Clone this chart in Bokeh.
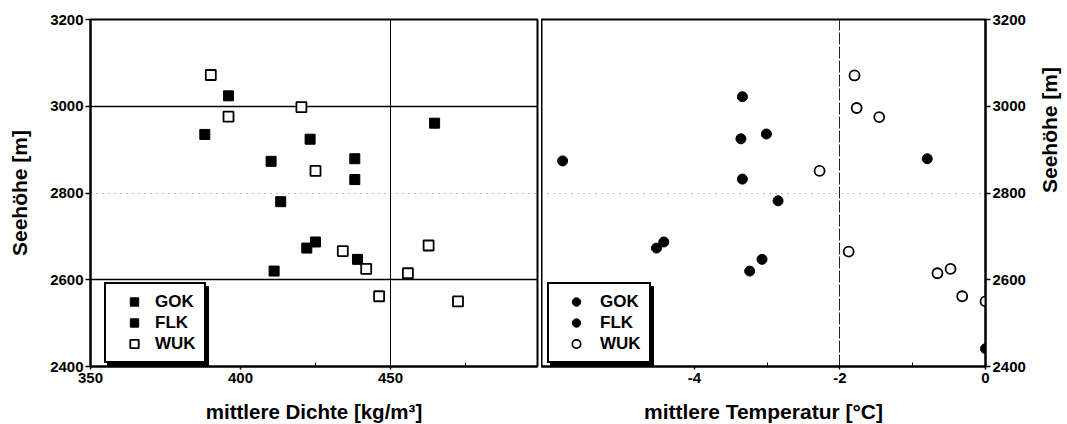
import math
from bokeh.plotting import figure
from bokeh.layouts import row
from bokeh.models import (Legend, LegendItem, FixedTicker, Grid, Range1d,
                          BoxAnnotation)
from bokeh.embed import file_html
from bokeh.resources import INLINE

# ---------------- data ----------------
groups = ["GOK", "FLK", "WUK"]

# left panel: mittlere Dichte [kg/m3] vs Seehöhe [m]
gok_dichte = [388.1, 423.2, 410.2, 438.1, 413.4]
gok_hoehe_d = [2935, 2924, 2873, 2831, 2780]
flk_dichte = [396.0, 464.7, 438.1, 422.1, 425.0, 439.0, 411.2]
flk_hoehe_d = [3024, 2961, 2879, 2673, 2687, 2647, 2620]
wuk_dichte = [390.1, 420.3, 396.0, 425.0, 434.1, 441.9, 462.7, 455.8, 446.2, 472.5]
wuk_hoehe_d = [3072, 2998, 2976, 2851, 2666, 2625, 2679, 2615, 2562, 2550]

# right panel: mittlere Temperatur [°C] vs Seehöhe [m]
gok_temp = [-5.81, -3.36, -3.01, -3.34, -2.85]
gok_hoehe_t = [2874, 2925, 2936, 2832, 2782]
flk_temp = [-3.34, -0.80, -4.52, -4.42, -3.24, -3.07, 0.0]
flk_hoehe_t = [3022, 2879, 2673, 2687, 2620, 2647, 2441]
wuk_temp = [-1.80, -1.77, -1.46, -2.28, -1.88, -0.48, -0.66, -0.32, 0.0]
wuk_hoehe_t = [3071, 2996, 2975, 2851, 2665, 2625, 2615, 2562, 2550]

x_ticks_d = [350, 400, 450]
x_minor_d = [375, 425, 475]
x_ticks_t = [-4, -2, 0]
x_minor_t = [-5, -3, -1]
y_ticks = [2400, 2600, 2800, 3000, 3200]

FONT = "Liberation Sans"


def style_axes(p):
    p.outline_line_color = "black"
    p.outline_line_width = 2
    p.xgrid.visible = False
    p.ygrid.visible = False
    for ax in p.axis:
        ax.axis_line_width = 2
        ax.axis_line_color = "black"
        ax.major_tick_line_width = 1.5
        ax.major_tick_line_color = "black"
        ax.minor_tick_line_color = "black"
        ax.minor_tick_line_width = 1
        ax.major_label_text_font = FONT
        ax.major_label_text_font_style = "bold"
        ax.major_label_text_font_size = "15px"
        ax.major_label_text_color = "black"
        ax.axis_label_text_font = FONT
        ax.axis_label_text_font_style = "bold"
        ax.axis_label_text_font_size = "21px"
        ax.axis_label_text_color = "black"
    for ax in p.xaxis:
        ax.major_tick_in = 0
        ax.major_tick_out = 3
        ax.minor_tick_in = 4
        ax.minor_tick_out = 0
        ax.major_label_standoff = 3
        ax.axis_label_standoff = 14
    for ax in p.yaxis:
        ax.major_tick_in = 0
        ax.major_tick_out = 5
        ax.minor_tick_in = 0
        ax.minor_tick_out = 0
        ax.major_label_standoff = 2


def make_legend(p, items, loc, gw, standoff):
    pad, lw, lh = 7, 42, 21
    w = 2 * pad + gw + standoff + lw + 3
    h = 2 * pad + len(items) * lh + 3
    off = 3
    shadow = BoxAnnotation(left=loc[0] + off, right=loc[0] + w + off,
                           bottom=loc[1] - off, top=loc[1] + h - off,
                           left_units="screen", right_units="screen",
                           top_units="screen", bottom_units="screen",
                           fill_color="black", fill_alpha=1,
                           line_color="black", line_alpha=1)
    p.add_layout(shadow)
    main = Legend(items=items, location=loc, orientation="vertical", margin=0,
                  padding=pad, spacing=0, label_height=lh, glyph_height=lh,
                  glyph_width=gw, label_standoff=standoff, label_width=lw,
                  label_text_font=FONT, label_text_font_style="bold",
                  label_text_font_size="17px", label_text_color="black",
                  border_line_color="black", border_line_width=2,
                  border_line_alpha=1, background_fill_color="white",
                  background_fill_alpha=1)
    p.add_layout(main, "center")


# ---------------- left panel ----------------
p1 = figure(frame_width=447, frame_height=347,
            x_range=Range1d(350, 499), y_range=Range1d(2400, 3200),
            min_border_left=90, min_border_right=4, min_border_top=19,
            min_border_bottom=58, toolbar_location=None, output_backend="svg")
p1.xaxis.ticker = FixedTicker(ticks=x_ticks_d, minor_ticks=x_minor_d)
p1.yaxis.ticker = FixedTicker(ticks=y_ticks)
p1.xaxis.axis_label = "mittlere Dichte [kg/m³]"
p1.yaxis.axis_label = "Seehöhe [m]"
style_axes(p1)
p1.xaxis.axis_label_text_font_size = "20.5px"
p1.yaxis.axis_label_standoff = 16

p1.add_layout(Grid(dimension=0, ticker=FixedTicker(ticks=[450]),
                   grid_line_color="black", grid_line_width=1))
p1.add_layout(Grid(dimension=1, ticker=FixedTicker(ticks=[2600, 3000]),
                   grid_line_color="black", grid_line_width=1.3))
p1.add_layout(Grid(dimension=1, ticker=FixedTicker(ticks=[2800]),
                   grid_line_color="#777777", grid_line_width=1,
                   grid_line_dash="1 5"))

r_gok1 = p1.scatter(gok_dichte, gok_hoehe_d, marker="square", size=10,
                    fill_color="black", line_color="black")
r_flk1 = p1.scatter(flk_dichte, flk_hoehe_d, marker="square", size=10,
                    fill_color="black", line_color="black")
r_wuk1 = p1.scatter(wuk_dichte, wuk_hoehe_d, marker="square", size=10,
                    fill_color="white", line_color="black", line_width=1.8)
items1 = [LegendItem(label=groups[0], renderers=[r_gok1]),
          LegendItem(label=groups[1], renderers=[r_flk1]),
          LegendItem(label=groups[2], renderers=[r_wuk1])]
make_legend(p1, items1, (14, 3), 42, 0)

# ---------------- right panel ----------------
p2 = figure(frame_width=444, frame_height=347,
            x_range=Range1d(-6.1, 0), y_range=Range1d(2400, 3200),
            y_axis_location="right",
            min_border_left=0, min_border_right=82, min_border_top=19,
            min_border_bottom=58, toolbar_location=None, output_backend="svg")
p2.xaxis.ticker = FixedTicker(ticks=x_ticks_t, minor_ticks=x_minor_t)
p2.xaxis.major_label_overrides = {t: ("%d" % t) for t in x_ticks_t}
p2.yaxis.ticker = FixedTicker(ticks=y_ticks)
p2.xaxis.axis_label = "mittlere Temperatur [°C]"
p2.yaxis.axis_label = "Seehöhe [m]"
style_axes(p2)
p2.yaxis.axis_label_standoff = 21
p2.yaxis.axis_label_orientation = math.pi / 2

p2.add_layout(Grid(dimension=0, ticker=FixedTicker(ticks=[-2]),
                   grid_line_color="#222222", grid_line_width=1,
                   grid_line_dash="12 2"))
p2.add_layout(Grid(dimension=1, ticker=FixedTicker(ticks=[2800]),
                   grid_line_color="#777777", grid_line_width=1,
                   grid_line_dash="1 5"))

r_gok2 = p2.scatter(gok_temp, gok_hoehe_t, marker="circle", size=10,
                    fill_color="black", line_color="black")
r_flk2 = p2.scatter(flk_temp, flk_hoehe_t, marker="circle", size=10,
                    fill_color="black", line_color="black")
r_wuk2 = p2.scatter(wuk_temp, wuk_hoehe_t, marker="circle", size=10,
                    fill_color="white", line_color="black", line_width=1.8)
items2 = [LegendItem(label=groups[0], renderers=[r_gok2]),
          LegendItem(label=groups[1], renderers=[r_flk2]),
          LegendItem(label=groups[2], renderers=[r_wuk2])]
make_legend(p2, items2, (6, 3), 40, 4)

layout = row(p1, p2)
open("out.html", "w").write(file_html(layout, INLINE))
